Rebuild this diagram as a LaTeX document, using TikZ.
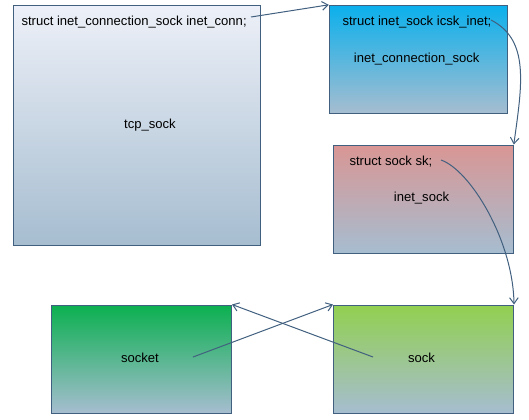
\documentclass[tikz,border=0pt]{standalone}
\usepackage{fontspec}
\setmainfont{Liberation Sans}
\usetikzlibrary{arrows.meta}
\definecolor{linec}{HTML}{41607F}
\definecolor{paleblue}{HTML}{EDF0F8}
\definecolor{greyblue}{HTML}{A6BDD0}
\definecolor{skyc}{HTML}{0BB0EC}
\definecolor{rosec}{HTML}{D99694}
\definecolor{greenc}{HTML}{0BB050}
\definecolor{limec}{HTML}{92D050}
\tikzset{every picture/.style={line width=0.75pt}}
\tikzset{
  structbox/.style={draw=linec, rectangle, inner sep=0pt, bottom color=greyblue},
  field/.style={inner sep=0pt, font=\fontsize{9.8pt}{12pt}\selectfont},
  link/.style={draw=linec, -{Straight Barb[length=4.5pt,width=6.5pt]}}
}

\begin{document}
\begin{tikzpicture}[x=0.75pt,y=-0.75pt]
\useasboundingbox (0,0) rectangle (529,419);
% the structs
\node[structbox, top color=paleblue, minimum width=185.25pt, minimum height=180pt] (tcp) at (136.5,125) {};
\node[structbox, top color=skyc, minimum width=133.5pt, minimum height=81pt] (icsk) at (418.3,59.3) {};
\node[structbox, top color=rosec, minimum width=135pt, minimum height=81pt] (inetsk) at (423.3,199) {};
\node[structbox, top color=greenc, minimum width=135pt, minimum height=81pt] (socket) at (141.5,359) {};
\node[structbox, top color=limec, minimum width=135pt, minimum height=81pt] (sock) at (423.5,359) {};
%
\node[field, anchor=west] (connfield) at (21,22) {struct inet\_connection\_sock inet\_conn;};
\node[field] (tcpname) at (150,125) {tcp\_sock};
\node[field, anchor=west] (inetfield) at (342,22) {struct inet\_sock icsk\_inet;};
\node[field] (icskname) at (416.7,59) {inet\_connection\_sock};
\node[field, anchor=west] (skfield) at (349,161.7) {struct sock sk;};
\node[field] (inetskname) at (421.5,198) {inet\_sock};
\node[field] (socketname) at (140,358) {socket};
\node[field] (sockname) at (421.5,358) {sock};
%
\coordinate (conntail) at (251,17);
\coordinate (inettail) at (491,20);
\coordinate (sktail) at (441,160);
\coordinate (sockettail) at (193,357);
\coordinate (socktail) at (373,357);
% pointers
\draw[link] (conntail) -- (icsk.north west);
\draw[link] (inettail) .. controls (530,40) and (522,85) .. (inetsk.north east);
\draw[link] (sktail) .. controls (470,170) and (513,240) .. (sock.north east);
\draw[link] (sockettail) -- (sock.north west);
\draw[link] (socktail) -- (socket.north east);
\end{tikzpicture}
\end{document}
